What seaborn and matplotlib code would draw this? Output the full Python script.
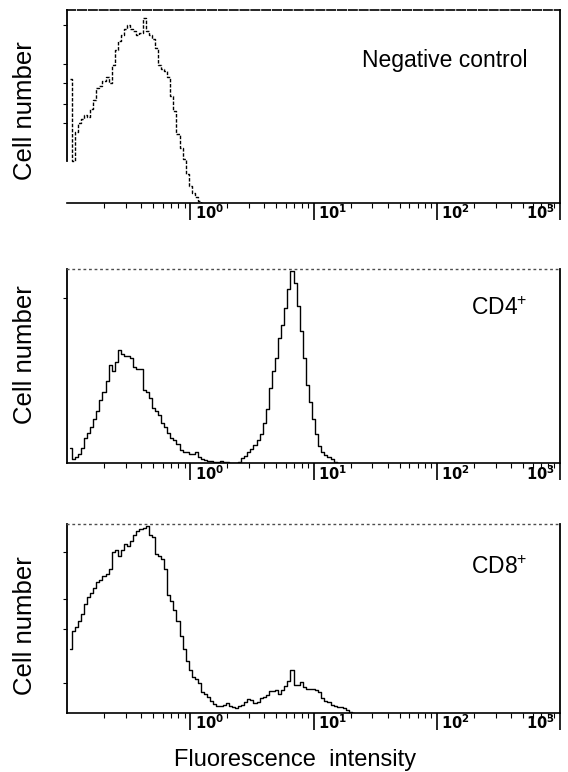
import numpy as np
import pandas as pd
import seaborn as sns
import matplotlib.pyplot as plt
import matplotlib.ticker as ticker
from matplotlib.transforms import ScaledTranslation, blended_transform_factory

sns.set_style("white")
plt.rcParams["font.family"] = ["Liberation Sans", "DejaVu Sans"]
plt.rcParams["text.color"] = "black"
plt.rcParams["axes.labelcolor"] = "black"
plt.rcParams["mathtext.fontset"] = "custom"
plt.rcParams["mathtext.rm"] = "Liberation Sans"
plt.rcParams["mathtext.bf"] = "DejaVu Sans:bold"

# histogram channels, log10(intensity), counts as % of the panel height
NEG_LOG = [-0.975, -0.950, -0.925, -0.900, -0.875, -0.850, -0.825, -0.800, -0.775, -0.750,
           -0.725, -0.700, -0.675, -0.650, -0.625, -0.600, -0.575, -0.550, -0.525, -0.500,
           -0.475, -0.450, -0.425, -0.400, -0.375, -0.350, -0.325, -0.300, -0.275, -0.250,
           -0.225, -0.200, -0.175, -0.150, -0.125, -0.100, -0.075, -0.050, -0.025, 0.000,
           0.025, 0.050, 0.075, 0.100]
NEG_COUNTS = [65, 22, 37, 42, 44, 46, 45, 49, 54, 60,
              61, 64, 66, 63, 72, 80, 85, 88, 91, 93,
              91, 90, 88, 89, 97, 90, 88, 86, 81, 72,
              70, 69, 66, 56, 48, 36, 29, 23, 15, 9,
              5, 3, 1, 0]

CD4_LOG = [-0.975, -0.950, -0.925, -0.900, -0.875, -0.850, -0.825, -0.800, -0.775, -0.750,
           -0.725, -0.700, -0.675, -0.650, -0.625, -0.600, -0.575, -0.550, -0.525, -0.500,
           -0.475, -0.450, -0.425, -0.400, -0.375, -0.350, -0.325, -0.300, -0.275, -0.250,
           -0.225, -0.200, -0.175, -0.150, -0.125, -0.100, -0.075, -0.050, -0.025, 0.000,
           0.025, 0.050, 0.075, 0.100, 0.125, 0.150, 0.175, 0.200, 0.225, 0.250,
           0.275, 0.300, 0.325, 0.350, 0.375, 0.400, 0.425, 0.450, 0.475, 0.500,
           0.525, 0.550, 0.575, 0.600, 0.625, 0.650, 0.675, 0.700, 0.725, 0.750,
           0.775, 0.800, 0.825, 0.850, 0.875, 0.900, 0.925, 0.950, 0.975, 1.000,
           1.025, 1.050, 1.075, 1.100, 1.125, 1.150, 1.175, 1.200]
CD4_COUNTS = [8, 2, 3, 5, 8, 13, 16, 19, 23, 27,
              33, 37, 43, 51, 48, 53, 59, 57, 56, 56,
              55, 50, 49, 49, 38, 37, 34, 29, 27, 25,
              21, 19, 16, 13, 12, 10, 7, 6, 6, 5,
              5, 6, 3, 2, 1.5, 1, 1, 0.5, 0.5, 1,
              0.5, 0.5, 0.3, 0, 0, 0.5, 2.5, 4, 6, 7.5,
              9.5, 12, 15, 21, 28, 39, 48, 55, 65, 72,
              81, 91, 100, 94, 82, 69, 55, 41, 32, 23,
              15, 9, 6, 4.5, 3, 2, 0.5, 0]

CD8_LOG = [-0.975, -0.950, -0.925, -0.900, -0.875, -0.850, -0.825, -0.800, -0.775, -0.750,
           -0.725, -0.700, -0.675, -0.650, -0.625, -0.600, -0.575, -0.550, -0.525, -0.500,
           -0.475, -0.450, -0.425, -0.400, -0.375, -0.350, -0.325, -0.300, -0.275, -0.250,
           -0.225, -0.200, -0.175, -0.150, -0.125, -0.100, -0.075, -0.050, -0.025, 0.000,
           0.025, 0.050, 0.075, 0.100, 0.125, 0.150, 0.175, 0.200, 0.225, 0.250,
           0.275, 0.300, 0.325, 0.350, 0.375, 0.400, 0.425, 0.450, 0.475, 0.500,
           0.525, 0.550, 0.575, 0.600, 0.625, 0.650, 0.675, 0.700, 0.725, 0.750,
           0.775, 0.800, 0.825, 0.850, 0.875, 0.900, 0.925, 0.950, 0.975, 1.000,
           1.025, 1.050, 1.075, 1.100, 1.125, 1.150, 1.175, 1.200, 1.225, 1.250,
           1.275, 1.300, 1.325]
CD8_COUNTS = [34, 44, 46, 49, 53, 58, 62, 64, 67, 70,
              71, 73, 74, 77, 86, 87, 84, 87, 90, 89,
              92, 95, 97, 98, 99, 100, 95, 94, 85, 84,
              82, 77, 63, 60, 55, 49, 41, 34, 28, 23,
              19, 18, 16, 11, 10, 8.5, 6.5, 5, 4, 3.8,
              4.5, 5.6, 4, 3, 2.5, 3.5, 4.5, 6, 7.4, 6.9,
              5.1, 6, 7.8, 8.5, 9.5, 11.6, 11.8, 12.2, 10, 12.5,
              14.5, 17, 23, 15, 14.8, 16.6, 13.9, 13, 13, 13,
              12.5, 11.3, 8, 6.5, 6, 4.5, 4, 3.4, 3, 2.8,
              1.6, 0.7, 0]

PANEL_NAMES = ["Negative control", "CD4$^{+}$", "CD8$^{+}$"]
PANEL_DATA = [(NEG_LOG, NEG_COUNTS), (CD4_LOG, CD4_COUNTS), (CD8_LOG, CD8_COUNTS)]
DECADES = [1, 10, 100, 1000]
DECADE_LABELS = [r"$\mathbf{10^{0}}$", r"$\mathbf{10^{1}}$", r"$\mathbf{10^{2}}$", r"$\mathbf{10^{3}}$"]

# layout (figure fractions) and small per-panel styling
RECTS = [[0.118, 0.737, 0.868, 0.250],
         [0.118, 0.400, 0.868, 0.251],
         [0.118, 0.0764, 0.868, 0.245]]
Y_TICKS = [[42, 52, 63, 73, 93], [86], [16, 45, 61, 86]]
YLAB_POS = [0.48, 0.56, 0.46]
NAME_POS = [0.74, 0.80, 0.77]

fig = plt.figure(figsize=(5.68, 7.72), dpi=100)

for i, (name, (lx, counts)) in enumerate(zip(PANEL_NAMES, PANEL_DATA)):
    ax = fig.add_axes(RECTS[i])
    ax.set_xscale("log")
    df = pd.DataFrame({"intensity": 10 ** np.array(lx), "count": counts})
    sns.lineplot(
        data=df, x="intensity", y="count", ax=ax, color="black",
        lw=1.0, drawstyle="steps-mid", estimator=None, sort=False,
        linestyle=(0, (2.5, 1.2)) if i == 0 else "-",
    )
    ax.set_xlim(0.1, 1000)
    ax.set_ylim(0, 101)

    ax.xaxis.set_major_locator(ticker.FixedLocator(DECADES))
    ax.xaxis.set_minor_locator(ticker.LogLocator(base=10, subs=np.arange(2, 10), numticks=20))
    ax.xaxis.set_major_formatter(ticker.NullFormatter())
    ax.xaxis.set_minor_formatter(ticker.NullFormatter())
    ax.tick_params(axis="x", which="major", direction="out", length=12, width=1.2,
                   bottom=True, color="black")
    ax.tick_params(axis="x", which="minor", direction="out", length=3.5, width=0.8,
                   bottom=True, color="black")
    ax.set_yticks(Y_TICKS[i])
    ax.set_yticklabels([])
    ax.tick_params(axis="y", direction="out", length=3, width=0.8, left=True, color="black")

    # decade labels sit just right of their tick, the last one left of it
    trans = blended_transform_factory(ax.transData, ax.transAxes)
    for v, lab in zip(DECADES, DECADE_LABELS):
        last = v == DECADES[-1]
        off = ScaledTranslation(-0.05 if last else 0.045, -0.10, fig.dpi_scale_trans)
        ax.text(v, 0, lab, transform=trans + off, ha="right" if last else "left",
                va="center", fontsize=10.5, color="black")

    ax.set_xlabel("")
    ax.set_ylabel("Cell number", fontsize=18.5, color="black")
    ax.yaxis.set_label_coords(-0.061, YLAB_POS[i])

    ax.text(0.933, NAME_POS[i], name, transform=ax.transAxes, ha="right",
            va="center", fontsize=16.5, color="black")

    for side in ["left", "right", "bottom", "top"]:
        ax.spines[side].set_visible(True)
        ax.spines[side].set_color("black")
    ax.spines["bottom"].set_linewidth(1.2)
    ax.spines["right"].set_linewidth(1.3)
    ax.spines["left"].set_linewidth(1.3)
    if i == 0:
        ax.spines["top"].set_linestyle((0, (5, 1.5)))
        ax.spines["top"].set_linewidth(1.2)
        ax.spines["left"].set_bounds(22, 101)
    else:
        ax.spines["top"].set_linestyle((0, (1, 3)))
        ax.spines["top"].set_linewidth(1.0)
        ax.spines["top"].set_color("0.3")

fig.text(0.519, 0.0078, "Fluorescence  intensity", ha="center", va="baseline",
         fontsize=17, color="black")

fig.savefig("out.png", dpi=100)
